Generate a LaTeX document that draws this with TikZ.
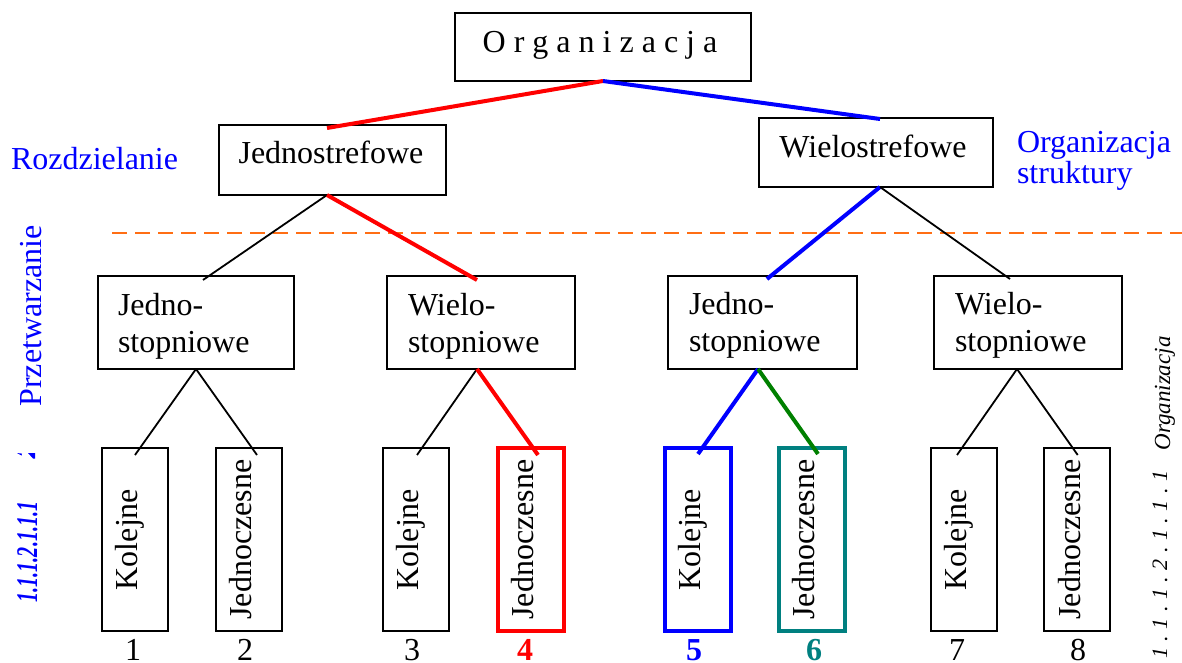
\documentclass[tikz,border=0pt]{standalone}
\usepackage{fontspec}
\setmainfont{Liberation Serif}
\definecolor{selred}{RGB}{255,0,0}
\definecolor{selblue}{RGB}{0,0,255}
\definecolor{selgreen}{RGB}{0,128,0}
\definecolor{selteal}{RGB}{0,128,128}
\definecolor{cutorange}{RGB}{255,110,20}
\begin{document}
\begin{tikzpicture}[x=1pt,y=-1pt,
  every node/.style={font=\fontsize{32}{37}\selectfont, inner sep=0pt, outer sep=0pt},
  box/.style 2 args={draw, line width=1.6pt, minimum width=#1, minimum height=#2},
  tallbox/.style={draw, line width=1.6pt, minimum width=66pt, minimum height=183pt},
  markbox/.style={tallbox, line width=4pt},
  vtext/.style={rotate=90, anchor=base},
  thin/.style={line width=1.8pt},
  thick/.style={line width=4pt},
  num/.style={anchor=base}]
\useasboundingbox (0,0) rectangle (1182,663);

% top level
\node[box={296pt}{68pt}] (org) at (603,47) {};
\node[anchor=base] (orgt) at (600,53) {O r g a n i z a c j a};

% first split
\node[box={227pt}{70pt}] (jst) at (332.5,160) {};
\node[anchor=base] (jstt) at (331,164) {Jednostrefowe};
\node[box={234pt}{69pt}] (wst) at (876,152.5) {};
\node[anchor=base] (wstt) at (873,158) {Wielostrefowe};

% side labels
\node[anchor=base west, text=selblue] (rozd) at (11,170) {Rozdzielanie};
\begin{scope}
  \clip (1000,100) rectangle (1182,193);
  \node[anchor=base west, text=selblue] (orgs1) at (1017,153) {Organizacja};
  \node[anchor=base west, text=selblue] (orgs2) at (1017,183) {struktury};
\end{scope}

% dividing line
\coordinate (cutL) at (112,233);
\coordinate (cutR) at (1182,233);
\draw[cutorange, line width=2.6pt, dash pattern=on 15pt off 8pt] (cutL) -- (cutR);

% second level
\node[box={196pt}{93pt}] (a) at (196,322.5) {};
\node[box={188pt}{93pt}] (b) at (481,322.5) {};
\node[box={189pt}{93pt}] (c) at (762.5,322.5) {};
\node[box={188pt}{93pt}] (d) at (1028,322.5) {};
\node[anchor=base west] (a1) at (118,315) {Jedno-};
\node[anchor=base west] (a2) at (118,352) {stopniowe};
\node[anchor=base west] (b1) at (408,315) {Wielo-};
\node[anchor=base west] (b2) at (408,352) {stopniowe};
\node[anchor=base west] (c1) at (689,314) {Jedno-};
\node[anchor=base west] (c2) at (689,351) {stopniowe};
\node[anchor=base west] (d1) at (955,314) {Wielo-};
\node[anchor=base west] (d2) at (955,351) {stopniowe};

% third level
\node[tallbox] (k1) at (135,539.5) {};
\node[tallbox] (k2) at (249,539.5) {};
\node[tallbox] (k3) at (416,539.5) {};
\node[markbox, draw=selred] (k4) at (530.5,539.5) {};
\node[markbox, draw=selblue] (k5) at (697.5,539.5) {};
\node[markbox, draw=selteal] (k6) at (812,539.5) {};
\node[tallbox] (k7) at (964,539.5) {};
\node[tallbox] (k8) at (1077.2,539.5) {};
\node[vtext] (k1t) at (137.5,539.5) {Kolejne};
\node[vtext] (k2t) at (251.5,539.5) {Jednoczesne};
\node[vtext] (k3t) at (418.5,539.5) {Kolejne};
\node[vtext] (k4t) at (533,539.5) {Jednoczesne};
\node[vtext] (k5t) at (700,539.5) {Kolejne};
\node[vtext] (k6t) at (814.5,539.5) {Jednoczesne};
\node[vtext] (k7t) at (966.5,539.5) {Kolejne};
\node[vtext] (k8t) at (1080,539.5) {Jednoczesne};

% numbers under the leaves
\node[num] (n1) at (133,660) {1};
\node[num] (n2) at (245,660) {2};
\node[num] (n3) at (412,660) {3};
\node[num, text=selred, font=\fontsize{32}{37}\selectfont\bfseries] (n4) at (525,660) {4};
\node[num, text=selblue, font=\fontsize{32}{37}\selectfont\bfseries] (n5) at (694,660) {5};
\node[num, text=selteal, font=\fontsize{32}{37}\selectfont\bfseries] (n6) at (814,660) {6};
\node[num] (n7) at (957,660) {7};
\node[num] (n8) at (1078,660) {8};

% rotated margin labels
\node[vtext, text=selblue] (przet) at (41,316) {Przetwarzanie};
\fill[selblue] (17,453) -- (22,453.6) -- (21.5,455.5) -- cycle;
\fill[selblue] (28,453) -- (35,453) -- (35,458.5) -- (33,458.5) -- cycle;
\node[vtext, text=selblue, font=\fontsize{30}{34}\selectfont\bfseries\itshape] (numL) at (37,552)
  {\scalebox{0.67}[1]{1.1.1.2.1.1.1}};
\node[vtext, font=\fontsize{23}{27}\selectfont\itshape] (orgR) at (1170,393.5) {Organizacja};
\node[vtext, font=\fontsize{22}{26}\selectfont\itshape] (numR) at (1167,564.5)
  {1\kern6.5pt.\kern6.5pt1\kern6.5pt.\kern6.5pt1\kern6.5pt.\kern6.5pt2\kern6.5pt.\kern6.5pt1\kern6.5pt.\kern6.5pt1\kern6.5pt.\kern6.5pt1};

% connectors
\draw[thick, selred]  (org.south) -- ([xshift=-5.5pt, yshift=-3pt]jst.north);
\draw[thick, selblue] (org.south) -- ([xshift=4pt, yshift=-1pt]wst.north);

\draw[thin]           ([xshift=-5.5pt]jst.south) -- ([xshift=7pt, yshift=-4pt]a.north);
\draw[thick, selred]  ([xshift=-5.5pt]jst.south) -- ([xshift=-4pt, yshift=-4pt]b.north);
\draw[thick, selblue] ([xshift=4pt]wst.south) -- ([xshift=4.5pt, yshift=-3pt]c.north);
\draw[thin]           ([xshift=4pt]wst.south) -- ([xshift=-18pt, yshift=-3pt]d.north);

\draw[thin]            (a.south) -- ([yshift=-7pt]k1.north);
\draw[thin]            (a.south) -- ([xshift=8pt, yshift=-7pt]k2.north);
\draw[thin]            ([xshift=-4pt]b.south) -- ([xshift=1pt, yshift=-7pt]k3.north);
\draw[thick, selred]   ([xshift=-4pt]b.south) -- ([xshift=7.5pt, yshift=-7pt]k4.north);
\draw[thick, selblue]  ([xshift=-4.5pt]c.south) -- ([xshift=0.5pt, yshift=-6pt]k5.north);
\draw[thick, selgreen] ([xshift=-4.5pt]c.south) -- ([xshift=6pt, yshift=-6pt]k6.north);
\draw[thin]            ([xshift=-11pt]d.south) -- ([xshift=-7pt, yshift=-7pt]k7.north);
\draw[thin]            ([xshift=-11pt]d.south) -- ([xshift=0.5pt, yshift=-7pt]k8.north);
\end{tikzpicture}
\end{document}
